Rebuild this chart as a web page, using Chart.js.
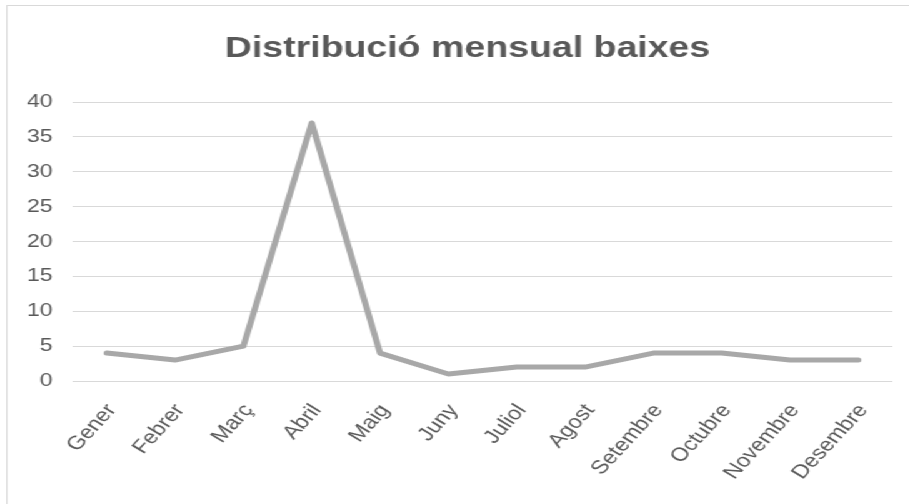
<!DOCTYPE html>
<html>
<head>
<meta charset="utf-8">
<script src="https://cdn.jsdelivr.net/npm/chart.js@4.4.0/dist/chart.umd.min.js"></script>
<style>
    html, body { margin: 0; padding: 0; background: #fff; overflow: hidden; }
    /* the reference is stretched horizontally, so the chart is drawn narrow and scaled */
    #wrap { position: absolute; left: 0; top: 0; width: 748px; height: 520px; transform: scaleX(1.25); transform-origin: 0 0; }
    #frame { position: absolute; left: 5px; top: 5px; width: 736px; height: 508px; border: 1.5px solid #d9d9d9; }
    #chart { position: absolute; left: 0; top: 0; }
</style>
</head>
<body>
<div id="wrap">
    <div id="frame"></div>
    <canvas id="chart" width="748" height="520"></canvas>
</div>
<script>
// Dades
const months = ['Gener', 'Febrer', 'Març', 'Abril', 'Maig', 'Juny', 'Juliol', 'Agost', 'Setembre', 'Octubre', 'Novembre', 'Desembre'];
const baixes = [4, 3, 5, 37, 4, 1, 2, 2, 4, 4, 3, 3];
const yTicks = [0, 5, 10, 15, 20, 25, 30, 35, 40];

const textColor = '#595959';
const fontFamily = '"Liberation Sans", Arial, sans-serif';

const ctx = document.getElementById('chart').getContext('2d');
new Chart(ctx, {
    type: 'line',
    data: {
        labels: months,
        datasets: [{
            label: 'Baixes',
            data: baixes,
            borderColor: '#a8a8a8',
            borderWidth: 5,
            borderJoinStyle: 'round',
            borderCapStyle: 'round',
            pointRadius: 0,
            tension: 0,
            fill: false
        }]
    },
    options: {
        responsive: false,
        animation: false,
        devicePixelRatio: 1,
        layout: { padding: 0 },
        plugins: {
            legend: { display: false },
            tooltip: { enabled: false },
            title: {
                display: true,
                text: 'Distribució mensual baixes',
                color: textColor,
                font: { family: fontFamily, size: 30, weight: 'bold', lineHeight: 1.2 },
                padding: { top: 31, bottom: 35 }
            }
        },
        scales: {
            x: {
                offset: true,
                grid: { display: false, drawTicks: false },
                border: { display: false },
                ticks: {
                    color: textColor,
                    font: { family: fontFamily, size: 19 },
                    maxRotation: 53,
                    minRotation: 53,
                    autoSkip: false,
                    padding: 19,
                    labelOffset: 4
                },
                afterFit: function(scale) { scale.height = 139; }
            },
            y: {
                min: 0,
                max: 40,
                afterBuildTicks: function(scale) {
                    scale.ticks = yTicks.map(v => ({ value: v }));
                },
                grid: { color: '#d9d9d9', lineWidth: 1, drawTicks: false },
                border: { display: false },
                ticks: {
                    color: textColor,
                    font: { family: fontFamily, size: 18.5 },
                    padding: 16
                },
                afterFit: function(scale) { scale.width = 58; }
            },
            // empty space on the right of the plot, keeps the title centred on the whole chart
            yRight: {
                position: 'right',
                display: true,
                grid: { display: false, drawTicks: false },
                border: { display: false },
                ticks: { display: false },
                afterFit: function(scale) { scale.width = 34; }
            }
        }
    }
});
</script>
</body>
</html>
